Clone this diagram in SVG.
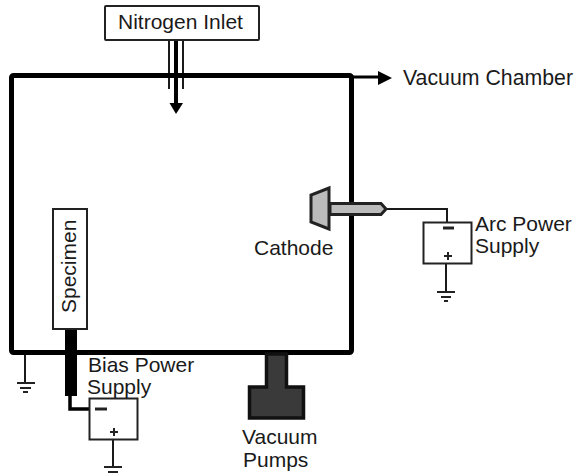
<svg xmlns="http://www.w3.org/2000/svg" width="575" height="474" viewBox="0 0 575 474">
<style>
text{font-family:"Liberation Sans",Arial,sans-serif;font-size:21px;fill:#1a1a1a}
.box{fill:#fff;stroke:#222;stroke-width:2}
.w{fill:none;stroke:#1a1a1a;stroke-width:2}
.g{fill:none;stroke:#222;stroke-width:2}
</style>
<rect width="575" height="474" fill="#fff"/>
<g id="connectors">
<path d="M169 41V89M183 41V89" class="w"/>
<path d="M176 41V104" fill="none" stroke="#000" stroke-width="4"/>
<path d="M169.500 103H183L176 114Z" fill="#000"/>
<path d="M352 77H380" fill="none" stroke="#000" stroke-width="3"/>
<path d="M378 71L392 78L378 85Z" fill="#000"/>
<path d="M387 209H447V222" class="w"/>
<path d="M446 264V292" class="w"/>
<path d="M70 396V409H89" fill="none" stroke="#000" stroke-width="3.500"/>
<path d="M113 439V467" class="w"/>
<path d="M25 354V382" class="w"/>
<g id="ground-left" class="g"><path d="M17 383H35M20 388H31M23 392H28"/></g>
<g id="ground-arc" class="g"><path d="M437 292H455M441 297H451M444 301H448"/></g>
<g id="ground-bias" class="g"><path d="M104 467H122M108 472H118"/></g>
</g>
<g id="vacuum-chamber">
<rect x="11.500" y="75.500" width="340" height="277" rx="2" fill="none" stroke="#000" stroke-width="5"/>
<text x="403" y="85" style="font-size:21.300px">Vacuum Chamber</text>
</g>
<g id="nitrogen-inlet">
<rect x="105" y="6" width="154" height="34" rx="1" class="box"/>
<text x="118" y="29">Nitrogen Inlet</text>
</g>
<g id="cathode">
<path d="M330 203.500H381L386 209L381 214.500H330Z" fill="#bbb" stroke="#222" stroke-width="3"/>
<path d="M329 188V229L311 222V195Z" fill="#bbb" stroke="#222" stroke-width="3"/>
<text x="254" y="255">Cathode</text>
</g>
<g id="arc-power-supply">
<rect x="423.500" y="222.500" width="48" height="41" class="box"/>
<path d="M443 228H454" fill="none" stroke="#222" stroke-width="3"/>
<path d="M444 256H452M448 252V260" class="g"/>
<text x="475" y="231">Arc Power</text>
<text x="475" y="253">Supply</text>
</g>
<g id="specimen">
<rect x="65" y="329" width="12" height="67" fill="#000"/>
<rect x="53" y="209" width="34" height="120" class="box"/>
<text transform="translate(76 313) rotate(-90)">Specimen</text>
</g>
<g id="bias-power-supply">
<rect x="89.500" y="398.500" width="48" height="41" class="box"/>
<path d="M95 409H107" fill="none" stroke="#222" stroke-width="3"/>
<path d="M110 432H118M114 428V436" class="g"/>
<text x="88" y="372">Bias Power</text>
<text x="87" y="394">Supply</text>
</g>
<g id="vacuum-pumps">
<path d="M266.500 354H286.500V387H303.500V418H249.500V387H266.500Z" fill="#3a3a3a" stroke="#111" stroke-width="3.500"/>
<text x="242" y="444">Vacuum</text>
<text x="243" y="467">Pumps</text>
</g>
</svg>
